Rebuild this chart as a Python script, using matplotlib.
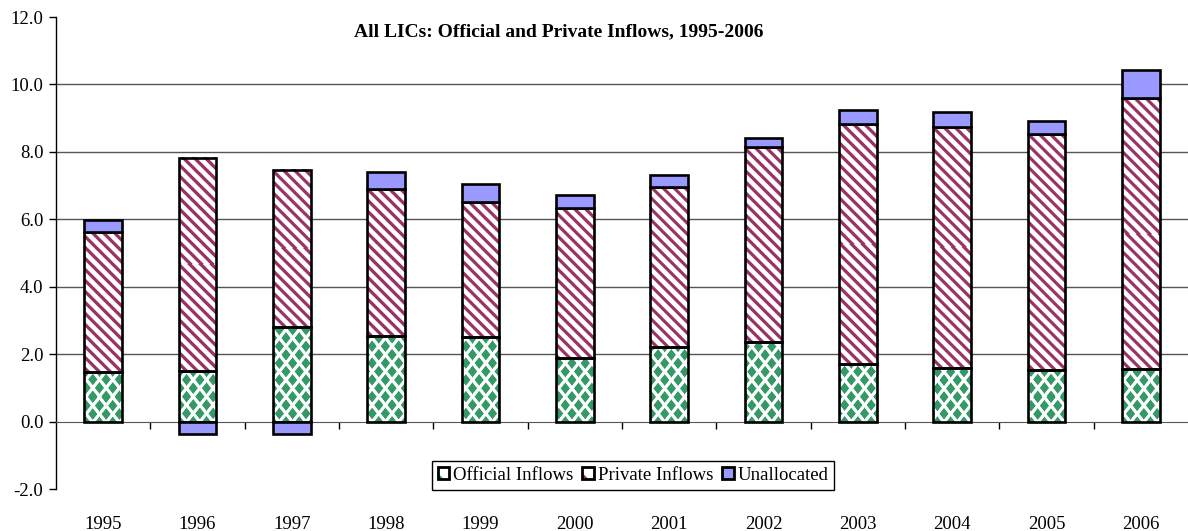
import numpy as np
import matplotlib
matplotlib.use("Agg")
import matplotlib.pyplot as plt
from matplotlib.patches import Patch, Rectangle, Polygon
from matplotlib.legend_handler import HandlerBase

# ---- data (USD bn) ----
years = ['1995', '1996', '1997', '1998', '1999', '2000',
         '2001', '2002', '2003', '2004', '2005', '2006']
official = [1.46, 1.50, 2.81, 2.54, 2.51, 1.89, 2.22, 2.37, 1.71, 1.60, 1.52, 1.57]
private = [4.15, 6.33, 4.66, 4.35, 3.99, 4.44, 4.74, 5.78, 7.12, 7.15, 7.00, 8.02]
unallocated = [0.37, -0.36, -0.36, 0.51, 0.55, 0.38, 0.36, 0.25, 0.41, 0.43, 0.39, 0.85]

GREEN = np.array([51, 153, 102]) / 255
PLUM = np.array([153, 51, 102]) / 255
BLUE = '#9999ff'

plt.rcParams['font.family'] = ['Liberation Serif', 'DejaVu Serif']


# pixel patterns, computed in display coordinates so they line up between bars
def diamonds(X, Y):
    px, py = 13.3, 8.4
    best = np.full(X.shape, 9.0)
    j0 = np.floor(Y / py)
    for j in (j0, j0 + 1):
        off = np.where(j % 2 == 1, px / 2, 0.0)
        dx = np.mod(X - off + px / 2, px) - px / 2
        dy = Y - j * py
        best = np.minimum(best, np.abs(dx) / (px / 2) + np.abs(dy) / py)
    a = np.clip((0.69 - best) * 7 + 0.5, 0, 1)
    return a, GREEN


def stripes(X, Y):
    period = 11.0
    t = np.mod(X + Y, period)
    d = np.abs(t - period / 2) / np.sqrt(2)
    a = np.clip(1.6 + 0.5 - d, 0, 1)
    return a, PLUM


def pattern_fill(ax, x0, x1, y0, y1, func):
    (dx0, dy0), (dx1, dy1) = ax.transData.transform([(x0, y0), (x1, y1)])
    w = max(int(round(dx1 - dx0)), 1)
    h = max(int(round(abs(dy1 - dy0))), 1)
    top = max(dy0, dy1)
    X, Y = np.meshgrid(dx0 + np.arange(w) + 0.5, top - np.arange(h) - 0.5)
    a, col = func(X, Y)
    img = np.ones((h, w, 3)) * (1 - a[..., None]) + col * a[..., None]
    ax.imshow(img, extent=(x0, x1, min(y0, y1), max(y0, y1)), origin='upper',
              interpolation='nearest', aspect='auto', zorder=2)


class SwatchHandler(HandlerBase):
    def __init__(self, corner=None, fill='white'):
        super().__init__()
        self.corner = corner
        self.fill = fill

    def create_artists(self, legend, orig_handle, xdescent, ydescent,
                       width, height, fontsize, trans):
        s = height * 1.0
        x0 = -xdescent + (width - s) / 2
        y0 = -ydescent + (height - s) / 2
        arts = [Rectangle((x0, y0), s, s, facecolor=self.fill, edgecolor='none',
                          transform=trans)]
        if self.corner is not None:
            arts.append(Polygon([(x0, y0), (x0 + s * 0.55, y0), (x0, y0 + s * 0.55)],
                                closed=True, facecolor=self.corner, edgecolor='none',
                                transform=trans))
        arts.append(Rectangle((x0, y0), s, s, facecolor='none', edgecolor='black',
                              lw=2, transform=trans))
        return arts


fig = plt.figure(figsize=(11.88, 5.31), dpi=100)
ax = fig.add_axes([56 / 1188, 1 - 489 / 531, 1 - 56 / 1188, 472 / 531])
ax.set_xlim(-0.5, len(years) - 0.5)
ax.set_ylim(-2, 12)

x = np.arange(len(years))
off = np.array(official)
pri = np.array(private)
una = np.array(unallocated)
una_bottom = np.where(una >= 0, off + pri, 0.0)
bw = 0.4

# gridlines
ax.hlines([2, 4, 6, 8, 10], -0.5, len(years) - 0.5, colors='#555555', lw=1, zorder=1)

for i in x:
    pattern_fill(ax, i - bw / 2, i + bw / 2, 0, off[i], diamonds)
    pattern_fill(ax, i - bw / 2, i + bw / 2, off[i], off[i] + pri[i], stripes)

ax.bar(x, off, bw, facecolor='none', edgecolor='black', lw=1.9, zorder=3)
ax.bar(x, pri, bw, bottom=off, facecolor='none', edgecolor='black', lw=1.9, zorder=3)
ax.bar(x, una, bw, bottom=una_bottom, facecolor=BLUE, edgecolor='black', lw=1.9, zorder=3)

ax.set_xlim(-0.5, len(years) - 0.5)
ax.set_ylim(-2, 12)

# axes styling
for side in ('top', 'right'):
    ax.spines[side].set_visible(False)
ax.spines['bottom'].set_position(('data', 0))
ax.spines['bottom'].set_color('#555555')
ax.spines['left'].set_linewidth(1)

ax.set_yticks(np.arange(-2, 13, 2))
ax.set_yticklabels([f'{v:.1f}' for v in np.arange(-2, 13, 2)])
ax.tick_params(axis='y', direction='out', length=5, width=1, pad=4, labelsize=13.5)
ax.set_xticks(np.arange(0.5, len(years) - 0.5, 1))
ax.set_xticklabels([])
ax.tick_params(axis='x', direction='out', length=5, width=1, color='black')

for i, yr in enumerate(years):
    ax.text(i, -0.075, yr, transform=ax.get_xaxis_transform(), ha='center', va='center',
            fontsize=13.5)

fig.text(559 / 1188, 1 - 32 / 531, 'All LICs: Official and Private Inflows, 1995-2006',
         ha='center', va='center', fontsize=14, fontweight='bold')

h_off = Patch(label='Official Inflows')
h_pri = Patch(label='Private Inflows')
h_una = Patch(label='Unallocated')
leg = fig.legend(handles=[h_off, h_pri, h_una], ncol=3, loc='center',
                 bbox_to_anchor=(633 / 1188, 1 - 475.5 / 531), fontsize=13.5,
                 frameon=True, fancybox=False, framealpha=1, edgecolor='black',
                 handlelength=0.6, handleheight=0.6, handletextpad=0.2,
                 columnspacing=0.5, borderpad=0.3,
                 handler_map={h_off: SwatchHandler(corner=GREEN),
                              h_pri: SwatchHandler(corner=PLUM),
                              h_una: SwatchHandler(fill=BLUE)})
leg.get_frame().set_linewidth(1)

fig.savefig('out.png', dpi=100)
